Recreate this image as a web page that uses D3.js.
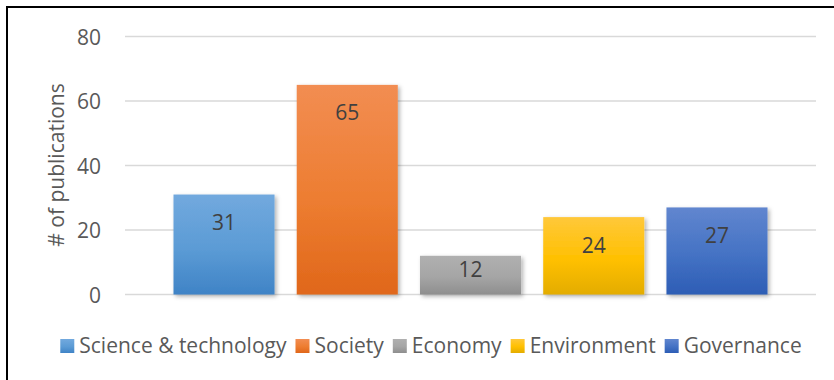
<!DOCTYPE html>
<html>
<head>
<meta charset="utf-8">
<script src="https://cdn.jsdelivr.net/npm/d3@7/dist/d3.min.js"></script>
<style>
  html, body { margin: 0; padding: 0; background: #fff; }
  svg { display: block; font-family: "Open Sans", "Noto Sans", sans-serif; }
</style>
</head>
<body>
<svg id="chart" width="834" height="380"></svg>
<script>
// Publications per topic
const categories = ["Science & technology", "Society", "Economy", "Environment", "Governance"];
const publications = [31, 65, 12, 24, 27];
const yTicks = [0, 20, 40, 60, 80];
const yLabel = "# of publications";

// Gradient stops per series: [top, middle, bottom]
const seriesColors = [
  ["#72a9de", "#5b9bd5", "#3f83c6"],
  ["#f28d52", "#ed7d31", "#e0671a"],
  ["#b0b0b0", "#a5a5a5", "#8e8e8e"],
  ["#ffc83a", "#ffc000", "#e3ac00"],
  ["#6186cf", "#4472c4", "#2d5db5"]
];

const svg = d3.select("#chart");
const textColor = "#595959";
const fontSize = 21;

// Outer frame (runs past the right and bottom edges)
svg.append("rect")
  .attr("x", 7).attr("y", 7)
  .attr("width", 900).attr("height", 500)
  .attr("fill", "none").attr("stroke", "#000").attr("stroke-width", 2);

const defs = svg.append("defs");
seriesColors.forEach((c, i) => {
  const g = defs.append("linearGradient").attr("id", "grad" + i)
    .attr("x1", 0).attr("y1", 0).attr("x2", 0).attr("y2", 1);
  g.append("stop").attr("offset", "0%").attr("stop-color", c[0]);
  g.append("stop").attr("offset", "55%").attr("stop-color", c[1]);
  g.append("stop").attr("offset", "100%").attr("stop-color", c[2]);
});
const shadow = defs.append("filter").attr("id", "shadow")
  .attr("x", "-10%").attr("y", "-10%").attr("width", "130%").attr("height", "130%");
shadow.append("feDropShadow")
  .attr("dx", 2).attr("dy", 2).attr("stdDeviation", 2)
  .attr("flood-color", "#000").attr("flood-opacity", 0.3);

const gridLeft = 125, gridRight = 816;
const y = d3.scaleLinear().domain([0, 80]).range([294.5, 36.5]);
const x = d3.scaleBand().domain(categories)
  .range([162.4, 778.6]).paddingInner(0.18).paddingOuter(0.09);

// Horizontal gridlines
svg.append("g").selectAll("line").data(yTicks).join("line")
  .attr("x1", gridLeft).attr("x2", gridRight)
  .attr("y1", d => y(d)).attr("y2", d => y(d))
  .attr("stroke", "#d9d9d9").attr("stroke-width", 1.5);

// Y axis tick labels
const yAxis = d3.axisLeft(y).tickValues(yTicks).tickSize(0).tickPadding(0);
const yg = svg.append("g").attr("transform", "translate(101,0)").call(yAxis);
yg.select(".domain").remove();
yg.selectAll("text")
  .attr("fill", textColor).attr("font-size", fontSize)
  .attr("font-family", "'Open Sans', sans-serif")
  .attr("dy", "0.36em");

// Y axis title
svg.append("text")
  .attr("transform", "translate(64,165) rotate(-90)")
  .attr("text-anchor", "middle")
  .attr("fill", textColor).attr("font-size", fontSize)
  .text(yLabel);

// Bars
svg.append("g").selectAll("rect").data(categories).join("rect")
  .attr("x", d => x(d))
  .attr("width", x.bandwidth())
  .attr("y", (d, i) => y(publications[i]))
  .attr("height", (d, i) => y(0) - y(publications[i]))
  .attr("fill", (d, i) => `url(#grad${i})`)
  .attr("filter", "url(#shadow)");

// Value labels near the top inside each bar
svg.append("g").selectAll("text").data(categories).join("text")
  .attr("x", d => x(d) + x.bandwidth() / 2)
  .attr("y", (d, i) => {
    const top = y(publications[i]);
    const h = y(0) - top;
    return top + Math.min(28, h / 2 - 6);
  })
  .attr("dy", "0.36em")
  .attr("text-anchor", "middle")
  .attr("fill", "#404040").attr("font-size", fontSize)
  .text((d, i) => publications[i]);

// Legend along the bottom, centred on the frame
const legend = svg.append("g");
const items = legend.selectAll("g").data(categories).join("g");
items.append("rect")
  .attr("width", 14).attr("height", 14)
  .attr("y", 339)
  .attr("fill", (d, i) => `url(#grad${i})`);
items.append("text")
  .attr("x", 19).attr("y", 353)
  .attr("fill", textColor).attr("font-size", fontSize)
  .text(d => d);
let cursor = 0;
items.each(function() {
  const g = d3.select(this);
  g.attr("transform", `translate(${cursor},0)`);
  const w = g.select("text").node().getComputedTextLength();
  cursor += 19 + w + 9;
});
const totalW = cursor - 9;
legend.attr("transform", `translate(${431 - totalW / 2},0)`);
</script>
</body>
</html>
